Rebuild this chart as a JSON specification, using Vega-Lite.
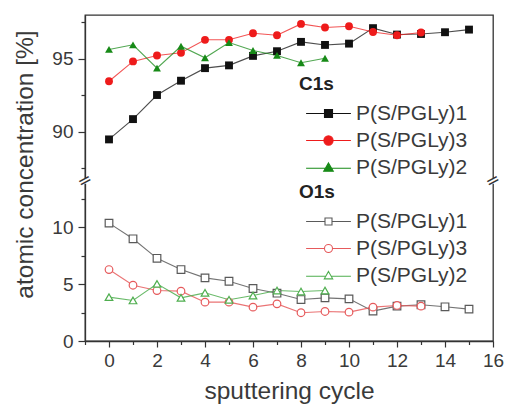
{
  "$schema": "https://vega.github.io/schema/vega-lite/v6.json",
  "width": 408,
  "height": 326,
  "autosize": {"type": "none"},
  "padding": {"left": 85, "top": 15, "right": 13, "bottom": 64},
  "background": "white",
  "config": {
    "font": "Liberation Sans",
    "view": {"stroke": "#333333", "strokeWidth": 1.3},
    "axis": {
      "grid": false,
      "domainColor": "#333333",
      "domainWidth": 1.3,
      "tickColor": "#333333",
      "tickWidth": 1.2,
      "labelColor": "#3a3a3a",
      "titleColor": "#3a3a3a",
      "labelFont": "Liberation Sans",
      "titleFont": "Liberation Sans",
      "titleFontWeight": "normal",
      "labelFontSize": 19,
      "titleFontSize": 24.5
    },
    "legend": {
      "labelFont": "Liberation Sans",
      "titleFont": "Liberation Sans",
      "labelFontSize": 21,
      "labelColor": "#3a3a3a",
      "titleFontSize": 19,
      "titleFontWeight": "bold",
      "titleColor": "#222222",
      "padding": 0,
      "rowPadding": 5,
      "titlePadding": 9,
      "symbolOpacity": 1,
      "symbolStrokeWidth": 1.1
    }
  },
  "resolve": {
    "scale": {"color": "independent", "stroke": "independent", "shape": "independent"},
    "legend": {"color": "independent", "stroke": "independent", "shape": "independent"}
  },
  "datasets": {
    "xps": [
      {"c": 0, "v": 89.48, "s": "P(S/PGLy)1", "g": "C1s"},
      {"c": 1, "v": 90.87, "s": "P(S/PGLy)1", "g": "C1s"},
      {"c": 2, "v": 92.52, "s": "P(S/PGLy)1", "g": "C1s"},
      {"c": 3, "v": 93.5, "s": "P(S/PGLy)1", "g": "C1s"},
      {"c": 4, "v": 94.36, "s": "P(S/PGLy)1", "g": "C1s"},
      {"c": 5, "v": 94.55, "s": "P(S/PGLy)1", "g": "C1s"},
      {"c": 6, "v": 95.2, "s": "P(S/PGLy)1", "g": "C1s"},
      {"c": 7, "v": 95.52, "s": "P(S/PGLy)1", "g": "C1s"},
      {"c": 8, "v": 96.16, "s": "P(S/PGLy)1", "g": "C1s"},
      {"c": 9, "v": 95.95, "s": "P(S/PGLy)1", "g": "C1s"},
      {"c": 10, "v": 96.04, "s": "P(S/PGLy)1", "g": "C1s"},
      {"c": 11, "v": 97.1, "s": "P(S/PGLy)1", "g": "C1s"},
      {"c": 12, "v": 96.66, "s": "P(S/PGLy)1", "g": "C1s"},
      {"c": 13, "v": 96.7, "s": "P(S/PGLy)1", "g": "C1s"},
      {"c": 14, "v": 96.82, "s": "P(S/PGLy)1", "g": "C1s"},
      {"c": 15, "v": 97.0, "s": "P(S/PGLy)1", "g": "C1s"},
      {"c": 0, "v": 93.46, "s": "P(S/PGLy)3", "g": "C1s"},
      {"c": 1, "v": 94.82, "s": "P(S/PGLy)3", "g": "C1s"},
      {"c": 2, "v": 95.23, "s": "P(S/PGLy)3", "g": "C1s"},
      {"c": 3, "v": 95.41, "s": "P(S/PGLy)3", "g": "C1s"},
      {"c": 4, "v": 96.3, "s": "P(S/PGLy)3", "g": "C1s"},
      {"c": 5, "v": 96.3, "s": "P(S/PGLy)3", "g": "C1s"},
      {"c": 6, "v": 96.75, "s": "P(S/PGLy)3", "g": "C1s"},
      {"c": 7, "v": 96.61, "s": "P(S/PGLy)3", "g": "C1s"},
      {"c": 8, "v": 97.39, "s": "P(S/PGLy)3", "g": "C1s"},
      {"c": 9, "v": 97.14, "s": "P(S/PGLy)3", "g": "C1s"},
      {"c": 10, "v": 97.23, "s": "P(S/PGLy)3", "g": "C1s"},
      {"c": 11, "v": 96.84, "s": "P(S/PGLy)3", "g": "C1s"},
      {"c": 12, "v": 96.61, "s": "P(S/PGLy)3", "g": "C1s"},
      {"c": 13, "v": 96.8, "s": "P(S/PGLy)3", "g": "C1s"},
      {"c": 0, "v": 95.64, "s": "P(S/PGLy)2", "g": "C1s"},
      {"c": 1, "v": 95.96, "s": "P(S/PGLy)2", "g": "C1s"},
      {"c": 2, "v": 94.36, "s": "P(S/PGLy)2", "g": "C1s"},
      {"c": 3, "v": 95.86, "s": "P(S/PGLy)2", "g": "C1s"},
      {"c": 4, "v": 95.07, "s": "P(S/PGLy)2", "g": "C1s"},
      {"c": 5, "v": 96.11, "s": "P(S/PGLy)2", "g": "C1s"},
      {"c": 6, "v": 95.57, "s": "P(S/PGLy)2", "g": "C1s"},
      {"c": 7, "v": 95.23, "s": "P(S/PGLy)2", "g": "C1s"},
      {"c": 8, "v": 94.73, "s": "P(S/PGLy)2", "g": "C1s"},
      {"c": 9, "v": 95.04, "s": "P(S/PGLy)2", "g": "C1s"},
      {"c": 0, "v": 10.38, "s": "P(S/PGLy)1", "g": "O1s"},
      {"c": 1, "v": 9.0, "s": "P(S/PGLy)1", "g": "O1s"},
      {"c": 2, "v": 7.28, "s": "P(S/PGLy)1", "g": "O1s"},
      {"c": 3, "v": 6.29, "s": "P(S/PGLy)1", "g": "O1s"},
      {"c": 4, "v": 5.56, "s": "P(S/PGLy)1", "g": "O1s"},
      {"c": 5, "v": 5.26, "s": "P(S/PGLy)1", "g": "O1s"},
      {"c": 6, "v": 4.62, "s": "P(S/PGLy)1", "g": "O1s"},
      {"c": 7, "v": 4.21, "s": "P(S/PGLy)1", "g": "O1s"},
      {"c": 8, "v": 3.65, "s": "P(S/PGLy)1", "g": "O1s"},
      {"c": 9, "v": 3.8, "s": "P(S/PGLy)1", "g": "O1s"},
      {"c": 10, "v": 3.71, "s": "P(S/PGLy)1", "g": "O1s"},
      {"c": 11, "v": 2.63, "s": "P(S/PGLy)1", "g": "O1s"},
      {"c": 12, "v": 3.07, "s": "P(S/PGLy)1", "g": "O1s"},
      {"c": 13, "v": 3.19, "s": "P(S/PGLy)1", "g": "O1s"},
      {"c": 14, "v": 3.01, "s": "P(S/PGLy)1", "g": "O1s"},
      {"c": 15, "v": 2.81, "s": "P(S/PGLy)1", "g": "O1s"},
      {"c": 0, "v": 6.29, "s": "P(S/PGLy)3", "g": "O1s"},
      {"c": 1, "v": 4.91, "s": "P(S/PGLy)3", "g": "O1s"},
      {"c": 2, "v": 4.44, "s": "P(S/PGLy)3", "g": "O1s"},
      {"c": 3, "v": 4.39, "s": "P(S/PGLy)3", "g": "O1s"},
      {"c": 4, "v": 3.42, "s": "P(S/PGLy)3", "g": "O1s"},
      {"c": 5, "v": 3.42, "s": "P(S/PGLy)3", "g": "O1s"},
      {"c": 6, "v": 2.98, "s": "P(S/PGLy)3", "g": "O1s"},
      {"c": 7, "v": 3.27, "s": "P(S/PGLy)3", "g": "O1s"},
      {"c": 8, "v": 2.49, "s": "P(S/PGLy)3", "g": "O1s"},
      {"c": 9, "v": 2.6, "s": "P(S/PGLy)3", "g": "O1s"},
      {"c": 10, "v": 2.54, "s": "P(S/PGLy)3", "g": "O1s"},
      {"c": 11, "v": 2.98, "s": "P(S/PGLy)3", "g": "O1s"},
      {"c": 12, "v": 3.13, "s": "P(S/PGLy)3", "g": "O1s"},
      {"c": 13, "v": 3.07, "s": "P(S/PGLy)3", "g": "O1s"},
      {"c": 0, "v": 3.86, "s": "P(S/PGLy)2", "g": "O1s"},
      {"c": 1, "v": 3.57, "s": "P(S/PGLy)2", "g": "O1s"},
      {"c": 2, "v": 5.03, "s": "P(S/PGLy)2", "g": "O1s"},
      {"c": 3, "v": 3.8, "s": "P(S/PGLy)2", "g": "O1s"},
      {"c": 4, "v": 4.24, "s": "P(S/PGLy)2", "g": "O1s"},
      {"c": 5, "v": 3.63, "s": "P(S/PGLy)2", "g": "O1s"},
      {"c": 6, "v": 4.0, "s": "P(S/PGLy)2", "g": "O1s"},
      {"c": 7, "v": 4.44, "s": "P(S/PGLy)2", "g": "O1s"},
      {"c": 8, "v": 4.36, "s": "P(S/PGLy)2", "g": "O1s"},
      {"c": 9, "v": 4.44, "s": "P(S/PGLy)2", "g": "O1s"}
    ],
    "axisBreaks": [
      {"c": -1, "v": 50},
      {"c": 16, "v": 50}
    ]
  },
  "encoding": {
    "x": {
      "field": "c",
      "type": "quantitative",
      "scale": {"domain": [-1, 16], "nice": false, "zero": false},
      "axis": {
        "title": "sputtering cycle",
        "values": [-1, 0, 1, 2, 3, 4, 5, 6, 7, 8, 9, 10, 11, 12, 13, 14, 15, 16],
        "labelExpr": "datum.value % 2 === 0 ? datum.label : ''",
        "tickSize": {"condition": {"test": "datum.value % 2 === 0", "value": 6}, "value": 3.5},
        "labelPadding": 4,
        "labelFlush": false,
        "labelOverlap": false,
        "titleY": 57,
        "titleBaseline": "alphabetic"
      }
    },
    "y": {
      "field": "v",
      "type": "quantitative",
      "scale": {"domain": [0, 14, 86.7, 98], "range": [326, 167, 165, 0], "nice": false, "zero": false},
      "axis": {
        "title": "atomic concentration [%]",
        "values": [0, 2.5, 5, 7.5, 10, 12.5, 87.5, 90, 92.5, 95, 97.5],
        "labelExpr": "datum.value % 5 === 0 ? datum.label : ''",
        "tickSize": {"condition": {"test": "datum.value % 5 === 0", "value": 7}, "value": 4},
        "labelPadding": 5,
        "labelOverlap": false,
        "titleX": -60,
        "titleY": 149,
        "titleBaseline": "middle",
        "titleAngle": -90
      }
    }
  },
  "layer": [
    {
      "data": {"name": "xps"},
      "transform": [{"filter": "datum.g === 'C1s'"}],
      "encoding": {
        "color": {
          "field": "s",
          "type": "nominal",
          "scale": {"domain": ["P(S/PGLy)1", "P(S/PGLy)3", "P(S/PGLy)2"], "range": ["#111111", "#ee1b1b", "#178a17"]},
          "legend": {
            "title": "C1s",
            "orient": "none",
            "legendX": 214,
            "legendY": 60,
            "symbolSize": 64,
            "symbolOffset": 19,
            "labelOffset": 17
          }
        }
      },
      "layer": [
        {"mark": {"type": "line", "strokeWidth": 1.1, "opacity": 0.75}, "encoding": {}},
        {
          "transform": [{"filter": "datum.s === 'P(S/PGLy)1'"}],
          "mark": {"type": "point", "shape": "square", "filled": true, "opacity": 1, "size": 62},
          "encoding": {}
        },
        {
          "transform": [{"filter": "datum.s === 'P(S/PGLy)3'"}],
          "mark": {"type": "point", "shape": "circle", "filled": true, "opacity": 1, "size": 62},
          "encoding": {}
        },
        {
          "transform": [{"filter": "datum.s === 'P(S/PGLy)2'"}],
          "mark": {"type": "point", "shape": "triangle-up", "filled": true, "opacity": 1, "size": 62},
          "encoding": {}
        },
        {
          "mark": {"type": "point", "filled": true, "opacity": 0, "size": 64},
          "encoding": {
            "shape": {
              "field": "s",
              "type": "nominal",
              "scale": {
                "domain": ["P(S/PGLy)1", "P(S/PGLy)3", "P(S/PGLy)2"],
                "range": [
                  "M-5.6,0H-1M1,0H5.6M-1,-1H1V1H-1Z",
                  "M-5.6,0H-1.15M1.15,0H5.6M-1.15,0A1.15,1.15,0,1,0,1.15,0A1.15,1.15,0,1,0,-1.15,0Z",
                  "M-5.6,0.2H-0.75M0.75,0.2H5.6M0,-1.15L1.2,0.95H-1.2Z"
                ]
              },
              "legend": {
                "title": "C1s",
                "orient": "none",
                "legendX": 214,
                "legendY": 60,
                "symbolSize": 64,
                "symbolOffset": 19,
                "labelOffset": 17
              }
            }
          }
        }
      ]
    },
    {
      "data": {"name": "xps"},
      "transform": [{"filter": "datum.g === 'O1s'"}],
      "encoding": {
        "stroke": {
          "field": "s",
          "type": "nominal",
          "scale": {"domain": ["P(S/PGLy)1", "P(S/PGLy)3", "P(S/PGLy)2"], "range": ["#5a5a5a", "#e65a5c", "#4fae4f"]},
          "legend": {
            "title": "O1s",
            "orient": "none",
            "legendX": 214,
            "legendY": 168,
            "symbolSize": 49,
            "symbolOffset": 19,
            "labelOffset": 17
          }
        }
      },
      "layer": [
        {"mark": {"type": "line", "strokeWidth": 1.1, "opacity": 0.85}, "encoding": {}},
        {
          "transform": [{"filter": "datum.s === 'P(S/PGLy)1'"}],
          "mark": {"type": "point", "shape": "square", "filled": false, "fill": "white", "fillOpacity": 1, "strokeWidth": 1.2, "opacity": 1, "size": 58},
          "encoding": {}
        },
        {
          "transform": [{"filter": "datum.s === 'P(S/PGLy)3'"}],
          "mark": {"type": "point", "shape": "circle", "filled": false, "fill": "white", "fillOpacity": 1, "strokeWidth": 1.2, "opacity": 1, "size": 58},
          "encoding": {}
        },
        {
          "transform": [{"filter": "datum.s === 'P(S/PGLy)2'"}],
          "mark": {"type": "point", "shape": "triangle-up", "filled": false, "fill": "white", "fillOpacity": 1, "strokeWidth": 1.2, "opacity": 1, "size": 58},
          "encoding": {}
        },
        {
          "mark": {"type": "point", "filled": false, "opacity": 0, "size": 49},
          "encoding": {
            "shape": {
              "field": "s",
              "type": "nominal",
              "scale": {
                "domain": ["P(S/PGLy)1", "P(S/PGLy)3", "P(S/PGLy)2"],
                "range": [
                  "M-6.4,0H-1M1,0H6.4M-1,-1H1V1H-1Z",
                  "M-6.4,0H-1.15M1.15,0H6.4M-1.15,0A1.15,1.15,0,1,0,1.15,0A1.15,1.15,0,1,0,-1.15,0Z",
                  "M-6.4,0.2H-0.75M0.75,0.2H6.4M0,-1.15L1.2,0.95H-1.2Z"
                ]
              },
              "legend": {
                "title": "O1s",
                "orient": "none",
                "legendX": 214,
                "legendY": 168,
                "symbolSize": 49,
                "symbolOffset": 19,
                "labelOffset": 17
              }
            }
          }
        }
      ]
    },
    {
      "data": {"name": "axisBreaks"},
      "layer": [
        {"mark": {"type": "point", "shape": "square", "filled": true, "color": "white", "opacity": 1, "size": 30}, "encoding": {}},
        {"mark": {"type": "text", "text": "=", "fontSize": 17, "angle": -28, "color": "#333333", "align": "center", "baseline": "middle", "font": "DejaVu Sans"}, "encoding": {}}
      ]
    }
  ]
}
